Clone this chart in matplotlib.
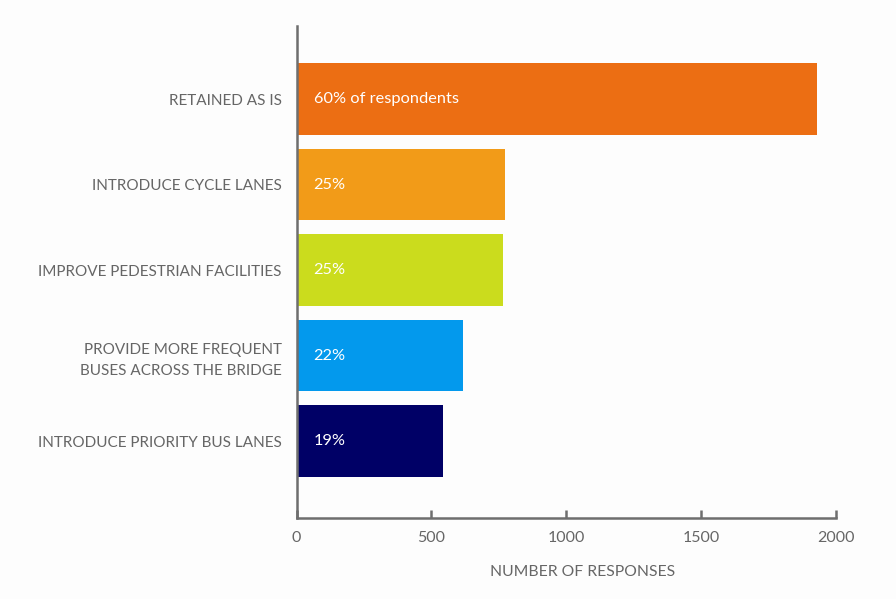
import matplotlib
matplotlib.use("Agg")
import matplotlib.pyplot as plt

categories = ["RETAINED AS IS", "INTRODUCE CYCLE LANES", "IMPROVE PEDESTRIAN FACILITIES",
              "PROVIDE MORE FREQUENT\nBUSES ACROSS THE BRIDGE", "INTRODUCE PRIORITY BUS LANES"]
responses = [1929, 773, 767, 618, 544]
pct_labels = ["60% of respondents", "25%", "25%", "22%", "19%"]
bar_colors = ["#EC6E13", "#F29B18", "#CBDC1D", "#0399ED", "#000066"]
xticks = [0, 500, 1000, 1500, 2000]
xlabel = "NUMBER OF RESPONSES"

plt.rcParams['font.family'] = ['Lato', 'DejaVu Sans']
text_color = "#666666"
axis_color = "#6e6e6e"
bg = "#FDFDFD"

fig = plt.figure(figsize=(8.96, 5.99), dpi=100, facecolor=bg)
ax = fig.add_axes([0.3311, 0.1352, 0.6016, 0.8214], facecolor=bg)

ypos = list(range(len(categories)))
ax.barh(ypos, responses, height=0.836, color=bar_colors, edgecolor="none", zorder=2)

for y, lab in zip(ypos, pct_labels):
    ax.annotate(lab, xy=(0, y), xytext=(17, 0), textcoords="offset pixels",
                ha="left", va="center", color="white", fontsize=11.8, zorder=3)

ax.set_xlim(0, 2000)
ax.set_ylim(len(categories) - 1 + 0.898, -0.854)
ax.set_xticks(xticks)
ax.set_xticklabels([str(t) for t in xticks])
ax.set_yticks(ypos)
ax.set_yticklabels(categories, linespacing=1.6)

for s in ["top", "right"]:
    ax.spines[s].set_visible(False)
for s in ["left", "bottom"]:
    ax.spines[s].set_color(axis_color)
    ax.spines[s].set_linewidth(1.8)
ax.spines["left"].set_zorder(4)

ax.tick_params(axis="x", direction="in", length=6, width=1.8, color=axis_color,
               labelcolor=text_color, labelsize=11.5, pad=9)
ax.tick_params(axis="y", length=0, labelcolor=text_color, labelsize=11, pad=10.8)
for lab in ax.get_yticklabels():
    lab.set_horizontalalignment("right")

ax.set_xlabel(xlabel, color=text_color, fontsize=11.3, labelpad=15)
ax.xaxis.label.set_position(((582.5 - 296.7) / 539, 0))

fig.savefig("out.png", dpi=100, facecolor=bg)
